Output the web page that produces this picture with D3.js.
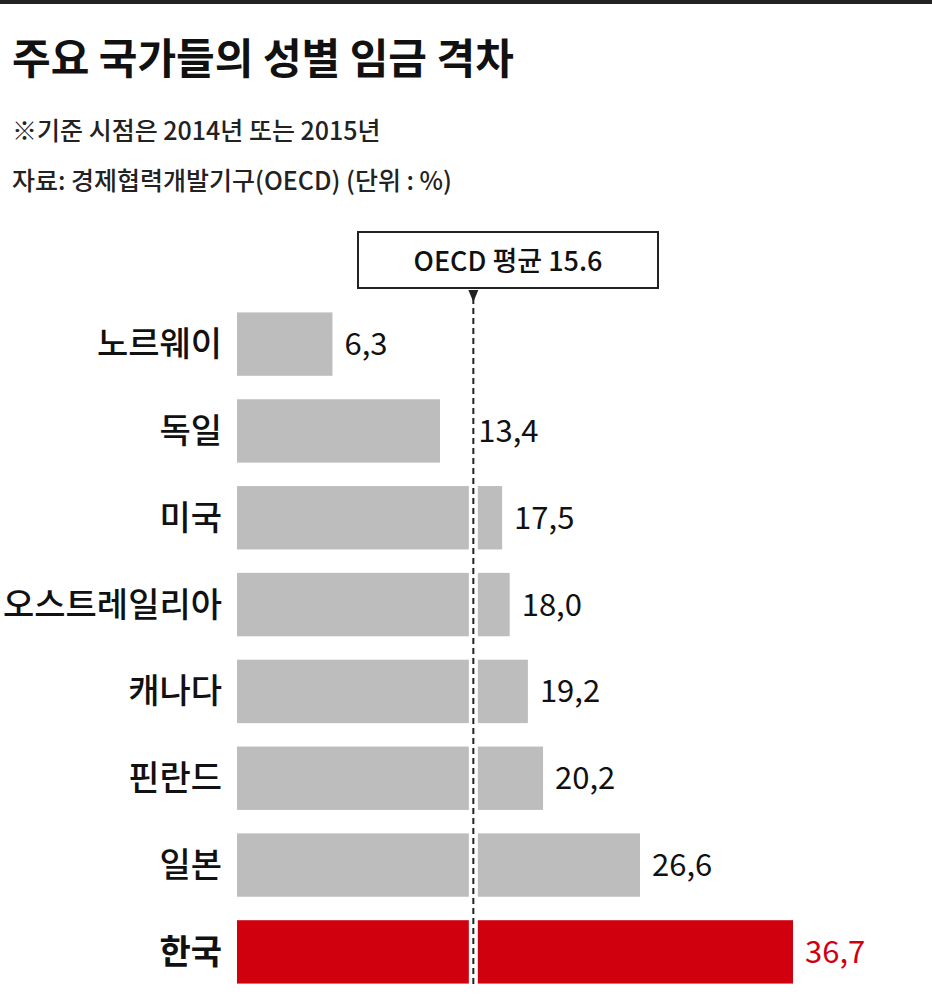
<!DOCTYPE html><html><head><meta charset="utf-8"><script src="https://cdn.jsdelivr.net/npm/d3@7"></script>
<style>body{margin:0;background:#fff}svg{display:block}</style></head><body><svg id="c" width="932" height="996"></svg>
<script>
const countries=["노르웨이","독일","미국","오스트레일리아","캐나다","핀란드","일본","한국"];
const values=[6.3,13.4,17.5,18.0,19.2,20.2,26.6,36.7];
const avg=15.6;
const svg=d3.select("#c"),F="'Noto Sans CJK KR',sans-serif";
svg.append("rect").attr("x",0).attr("y",0).attr("width",932).attr("height",4).attr("fill","#222");
svg.append("text").attr("x",12).attr("y",74).attr("font-family",F).attr("font-weight",700).attr("font-size",42).attr("fill","#111").text("주요 국가들의 성별 임금 격차");
svg.append("text").attr("x",12).attr("y",140).attr("font-family",F).attr("font-size",25).attr("font-weight",500).attr("fill","#222").text("※기준 시점은 2014년 또는 2015년");
svg.append("text").attr("x",12).attr("y",190).attr("font-family",F).attr("font-size",25).attr("font-weight",500).attr("fill","#222").text("자료: 경제협력개발기구(OECD) (단위 : %)");
const x=d3.scaleLinear().domain([0,36.7]).range([237,793]);
const y=d3.scaleBand().domain(countries).range([302,994]).paddingInner(0.27).paddingOuter(0.12);
const g=svg.append("g");
g.selectAll("rect.b").data(values).join("rect").attr("x",x(0)).attr("y",(d,i)=>y(countries[i])).attr("width",d=>x(d)-x(0)).attr("height",y.bandwidth()).attr("fill",(d,i)=>i==7?"#d0000f":"#bdbdbd");
svg.append("line").attr("x1",x(avg)).attr("x2",x(avg)).attr("y1",300).attr("y2",990).attr("stroke","#fff").attr("stroke-width",9);
svg.append("line").attr("x1",x(avg)).attr("x2",x(avg)).attr("y1",298).attr("y2",985).attr("stroke","#222").attr("stroke-width",2).attr("stroke-dasharray","6,4");
svg.append("path").attr("d",`M${x(avg)-5},290 L${x(avg)+5},290 L${x(avg)},302 Z`).attr("fill","#222");
svg.append("rect").attr("x",358).attr("y",232).attr("width",300).attr("height",56).attr("fill","#fff").attr("stroke","#222").attr("stroke-width",2);
svg.append("text").attr("x",508).attr("y",271).attr("text-anchor","middle").attr("font-family",F).attr("font-size",27).attr("font-weight",500).attr("fill","#111").text("OECD 평균 15.6");
g.selectAll("text.l").data(countries).join("text").attr("x",222).attr("y",d=>y(d)+y.bandwidth()/2+12).attr("text-anchor","end").attr("font-family",F).attr("font-size",34).attr("font-weight",(d,i)=>i==7?700:500).attr("fill","#111").text(d=>d);
function lx(d){const p=x(d)+12;if(d<avg&&p+60>x(avg))return x(avg)+5;if(d>=avg)return x(d)+12;return p;}
g.selectAll("text.v").data(values).join("text").attr("x",lx).attr("y",(d,i)=>y(countries[i])+y.bandwidth()/2+11).attr("font-family",F).attr("font-size",31).attr("fill",(d,i)=>i==7?"#d0000f":"#111").text(d=>d.toFixed(1).replace(".",","));
</script></body></html>
